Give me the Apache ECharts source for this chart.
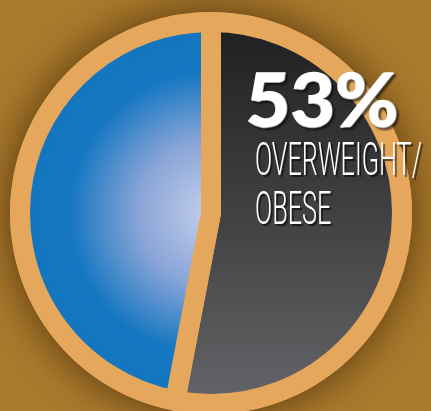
<!DOCTYPE html>
<html>
<head>
<meta charset="utf-8">
<script src="https://cdn.jsdelivr.net/npm/echarts@6/dist/echarts.min.js"></script>
<style>html,body{margin:0;padding:0;background:#a97a2d;}#c{width:431px;height:411px;}</style>
</head>
<body>
<div id="c"></div>
<script>
const categories = ['OVERWEIGHT/OBESE', 'HEALTHY WEIGHT'];
const values = [53, 47];
const labelLines = ['OVERWEIGHT/', 'OBESE'];

const CX = 211, CY = 213, R = 191;
const ORANGE = '#e4a75c';

const chart = echarts.init(document.getElementById('c'), null, {renderer: 'canvas'});
const darkFill = {
  type: 'linear', x: 0, y: CY - R, x2: 0, y2: CY + R, global: true,
  colorStops: [{offset: 0, color: '#1f1e21'}, {offset: 0.5, color: '#414143'}, {offset: 1, color: '#646568'}]
};
const blueFill = {
  type: 'radial', x: CX, y: CY, r: R, global: true,
  colorStops: [{offset: 0, color: '#c4d0ea'}, {offset: 0.38, color: '#8aa5d8'}, {offset: 0.74, color: '#1577c1'}, {offset: 1, color: '#1275be'}]
};
const fills = [darkFill, blueFill];

chart.setOption({
  backgroundColor: '#ab7b2e',
  animation: false,
  graphic: [
    {type: 'circle', z: 0, silent: true, shape: {cx: CX, cy: CY, r: R + 10},
     style: {fill: ORANGE, shadowBlur: 45, shadowColor: 'rgba(70,40,5,0.85)'}},
    {type: 'text', z: 10, x: 246, y: 66, scaleX: 1.04, silent: true,
     style: {text: values[0] + '%', fill: '#ffffff', font: '900 74px Lato',
       stroke: '#ffffff', lineWidth: 1.5,
       textShadowColor: 'rgba(0,0,0,0.5)', textShadowOffsetX: 2, textShadowOffsetY: 2, textShadowBlur: 2}},
    {type: 'text', z: 10, x: 255, y: 140, scaleX: 0.55, silent: true,
     style: {text: labelLines[0], fill: '#ffffff', font: '300 46px Roboto',
       textShadowColor: 'rgba(0,0,0,0.6)', textShadowOffsetX: 2, textShadowOffsetY: 2, textShadowBlur: 1}},
    {type: 'text', z: 10, x: 255, y: 189, scaleX: 0.55, silent: true,
     style: {text: labelLines[1], fill: '#ffffff', font: '300 46px Roboto',
       textShadowColor: 'rgba(0,0,0,0.6)', textShadowOffsetX: 2, textShadowOffsetY: 2, textShadowBlur: 1}}
  ],
  series: [{
    type: 'pie',
    center: [CX, CY],
    radius: [0, R],
    startAngle: 90,
    clockwise: true,
    silent: true,
    label: {show: false},
    labelLine: {show: false},
    itemStyle: {borderColor: ORANGE, borderWidth: 20, borderJoin: 'round'},
    data: categories.map((c, i) => ({name: c, value: values[i], itemStyle: {color: fills[i]}}))
  }]
});
</script>
</body>
</html>
